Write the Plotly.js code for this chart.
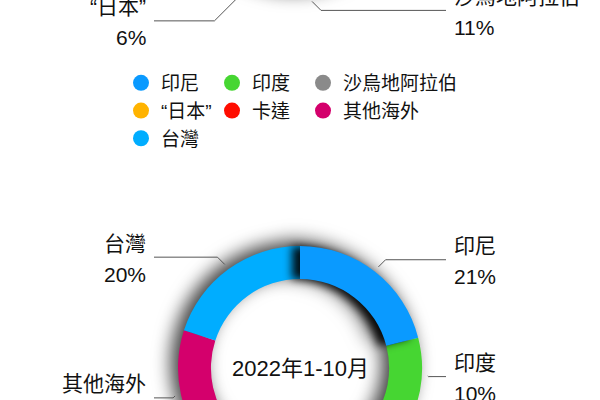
<!DOCTYPE html>
<html>
<head>
<meta charset="utf-8">
<script src="https://cdn.plot.ly/plotly-3.0.1.min.js"></script>
<style>
html, body { margin: 0; padding: 0; width: 600px; height: 400px; overflow: hidden; background: #fff; }
#frame { position: relative; width: 600px; height: 400px; overflow: hidden; }
/* the figure is taller than the window: only the middle band is shown */
#myDiv { position: absolute; left: 0; top: -300px; width: 600px; height: 1000px; }
#myDiv .pielayer .trace { filter: drop-shadow(-7px -4px 9px rgba(0, 0, 0, 0.75)); }
#myDiv .pielayer .slice.lead { filter: drop-shadow(-8px 0px 4px rgba(0, 0, 0, 0.9)); }
</style>
</head>
<body>
<div id="frame"><div id="myDiv"></div></div>
<script>
var labels = ['印尼', '印度', '沙烏地阿拉伯', '“日本”', '卡達', '其他海外', '台灣'];
var colors = ['#0a9aff', '#46d632', '#8a8a8a', '#ffb300', '#ff0d00', '#d4006c', '#00adff'];
// upper ring (only its bottom edge shows) and lower ring, shares in %
var sharePrev = [28, 15, 11, 6, 5, 16, 19];
var shareNow = [21, 10, 12, 8, 12, 17, 20];
var centerNow = '2022年1-10月';

var W = 600, H = 1000, SHIFT = 300;   // div pulled up by SHIFT px
var M = 150;                           // side margins keep the legend at 3 columns
var R = 122, HOLE = 0.73;
var FONT = '"Liberation Sans", "Noto Sans CJK TC", sans-serif';

function px(x) { return (x - M) / (W - 2 * M); }
function py(y) { return 1 - (y + SHIFT) / H; }

var rings = [
  { cx: 300, cy: -126, values: sharePrev },
  { cx: 300, cy: 368, values: shareNow, title: centerNow }
];

var data = [];
var shapes = [];
var annotations = [];

rings.forEach(function (ring, n) {
  data.push({
    type: 'pie',
    labels: labels,
    values: ring.values,
    sort: false,
    direction: 'clockwise',
    rotation: 0,
    hole: HOLE,
    marker: { colors: colors, line: { width: 0 } },
    textinfo: 'none',
    hoverinfo: 'skip',
    showlegend: n === 0,
    domain: { x: [px(ring.cx - R), px(ring.cx + R)], y: [py(ring.cy + R), py(ring.cy - R)] }
  });

  // outside labels with crooked connectors, placed from the slice mid angles
  var total = ring.values.reduce(function (a, b) { return a + b; }, 0);
  var acc = 0;
  var items = ring.values.map(function (v, i) {
    var a = (acc + v / 2) / total * 2 * Math.PI;
    acc += v;
    return {
      i: i,
      side: Math.sin(a) >= 0 ? 1 : -1,
      sx: ring.cx + (R + 6) * Math.sin(a),
      sy: ring.cy - (R + 6) * Math.cos(a),
      y: ring.cy - (R + 15) * Math.cos(a),
      pct: Math.round(v / total * 100)
    };
  });
  [1, -1].forEach(function (side) {
    var list = items.filter(function (d) { return d.side === side; })
      .sort(function (a, b) { return a.y - b.y; });
    for (var k = 1; k < list.length; k++) list[k].y = Math.max(list[k].y, list[k - 1].y + 50);
  });

  items.forEach(function (d) {
    var kx = d.sx + d.side * Math.abs(d.y - d.sy);
    var ex = ring.cx + d.side * 146;
    shapes.push({
      type: 'path', xref: 'paper', yref: 'paper',
      path: 'M' + px(d.sx) + ',' + py(d.sy) + ' L' + px(kx) + ',' + py(d.y) + ' L' + px(ex) + ',' + py(d.y),
      line: { color: '#555', width: 1 }
    });
    var tx = px(ring.cx + d.side * 152);
    var anchor = d.side > 0 ? 'left' : 'right';
    annotations.push({
      xref: 'paper', yref: 'paper', x: tx, y: py(d.y - 14), xanchor: anchor, yanchor: 'middle',
      text: labels[d.i], showarrow: false, font: { size: 21, color: '#111' }
    });
    annotations.push({
      xref: 'paper', yref: 'paper', x: tx, y: py(d.y + 17), xanchor: anchor, yanchor: 'middle',
      text: d.pct + '%', showarrow: false, font: { size: 21, color: '#111' }
    });
  });

  if (ring.title) {
    annotations.push({
      xref: 'paper', yref: 'paper', x: px(ring.cx), y: py(ring.cy), xanchor: 'center', yanchor: 'middle',
      text: ring.title, showarrow: false, font: { size: 22, color: '#111' }
    });
  }
});

var layout = {
  width: W,
  height: H,
  margin: { l: M, r: M, t: 0, b: 0, autoexpand: false },
  paper_bgcolor: '#fff',
  font: { family: FONT, color: '#111' },
  showlegend: true,
  legend: {
    orientation: 'h',
    x: px(121), xanchor: 'left',
    y: py(64), yanchor: 'top',
    entrywidth: 46, entrywidthmode: 'pixels',
    font: { size: 19, color: '#111' },
    bgcolor: 'rgba(0,0,0,0)'
  },
  shapes: shapes,
  annotations: annotations
};

Plotly.newPlot('myDiv', data, layout, { staticPlot: true }).then(function (gd) {
  // round legend markers, and let the long names run past the fixed entry width
  gd.querySelectorAll('.legend .legendpoints path').forEach(function (p) {
    p.setAttribute('d', 'M8,0A8,8 0 1,1 0,-8A8,8 0 0,1 8,0Z');
  });
  gd.querySelectorAll('.legend [clip-path]').forEach(function (el) {
    el.removeAttribute('clip-path');
  });
  // first slice drawn last so its shadow darkens the 12 o'clock seam
  gd.querySelectorAll('.pielayer .trace').forEach(function (tr) {
    var first = tr.querySelector('.slice');
    if (first) { first.classList.add('lead'); tr.appendChild(first); }
  });
});
</script>
</body>
</html>
